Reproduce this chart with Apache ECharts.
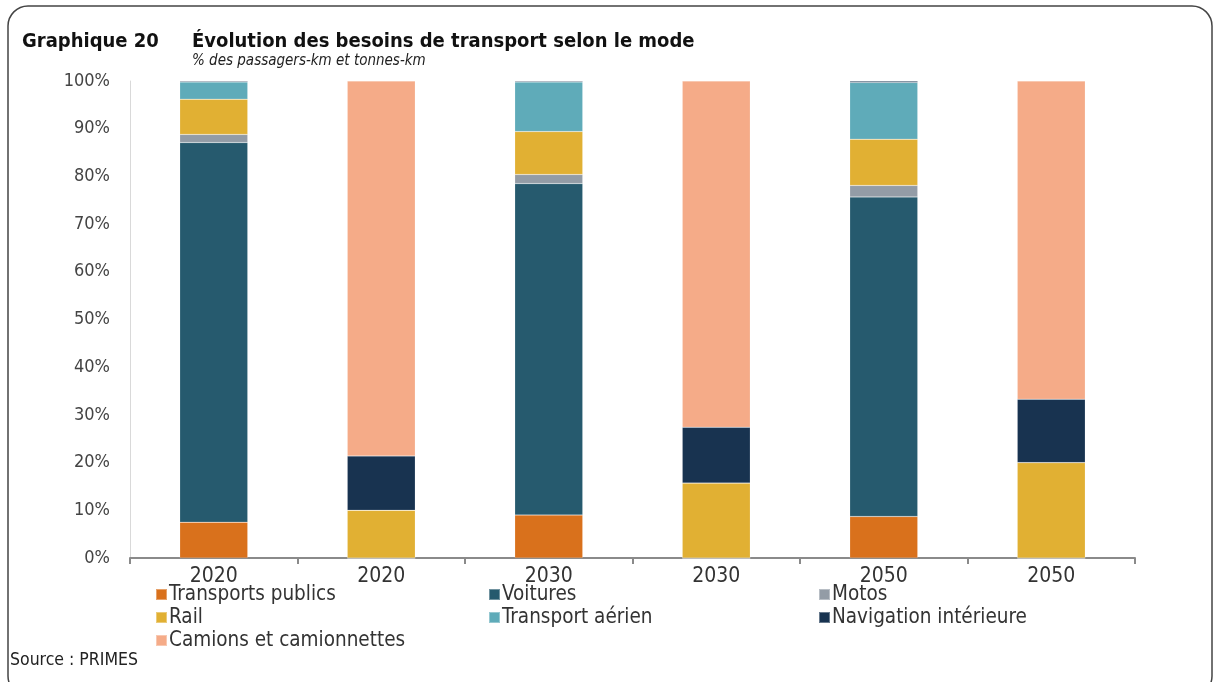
<!DOCTYPE html>
<html>
<head>
<meta charset="utf-8">
<script src="https://cdn.jsdelivr.net/npm/echarts@6/dist/echarts.min.js"></script>
<style>
  html, body { margin: 0; padding: 0; background: #fff; }
  #chart { width: 1215px; height: 682px; }
</style>
</head>
<body>
<div id="chart"></div>
<script>
// categories along x (passengers / freight per year)
const categories = ['2020', '2020', '2030', '2030', '2050', '2050'];
const yTicks = [0, 10, 20, 30, 40, 50, 60, 70, 80, 90, 100];

// shares in %
const transportsPublics = [7.5, 0, 9.0, 0, 8.7, 0];
const voitures = [79.6, 0, 69.5, 0, 67.0, 0];
const motos = [1.7, 0, 1.9, 0, 2.4, 0];
const rail = [7.4, 10.0, 9.0, 15.7, 9.7, 20.0];
const transportAerien = [3.6, 0, 10.4, 0, 11.9, 0];
const navigation = [0.2, 11.4, 0.2, 11.7, 0.3, 13.3];
const camions = [0, 78.6, 0, 72.6, 0, 66.7];

const seriesDefs = [
  { name: 'Transports publics', data: transportsPublics, color: '#D9711C' },
  { name: 'Voitures', data: voitures, color: '#265A6E' },
  { name: 'Motos', data: motos, color: '#939CA6' },
  { name: 'Rail', data: rail, color: '#E1B033' },
  { name: 'Transport aérien', data: transportAerien, color: '#5FABB9' },
  { name: 'Navigation intérieure', data: navigation, color: '#183350' },
  { name: 'Camions et camionnettes', data: camions, color: '#F5AB88' }
];

const FONT = '"DejaVu Sans Condensed", "DejaVu Sans", sans-serif';

const chart = echarts.init(document.getElementById('chart'));

const legendBase = {
  orient: 'vertical',
  icon: 'rect',
  itemWidth: 11,
  itemHeight: 11,
  itemGap: 2,
  padding: 0,
  selectedMode: false,
  textStyle: { fontFamily: FONT, fontSize: 20.5, lineHeight: 20, color: '#333', padding: [0, 0, 0, -3] }
};

const option = {
  animation: false,
  backgroundColor: '#fff',
  textStyle: { fontFamily: FONT },
  title: [
    { text: 'Graphique 20', left: 22, top: 32, padding: 0,
      textStyle: { fontFamily: FONT, fontSize: 20, fontWeight: 'bold', color: '#111' } },
    { text: 'Évolution des besoins de transport selon le mode', left: 192, top: 32, padding: 0,
      textStyle: { fontFamily: FONT, fontSize: 20, fontWeight: 'bold', color: '#111' } },
    { text: '% des passagers-km et tonnes-km', left: 192, top: 54, padding: 0,
      textStyle: { fontFamily: FONT, fontSize: 15, fontStyle: 'italic', fontWeight: 'normal', color: '#222' } },
    { text: 'Source : PRIMES', left: 10, top: 651, padding: 0,
      textStyle: { fontFamily: FONT, fontSize: 17.5, fontWeight: 'normal', color: '#222' } }
  ],
  legend: [
    Object.assign({ left: 155, top: 584, data: ['Transports publics', 'Rail', 'Camions et camionnettes'] }, legendBase),
    Object.assign({ left: 488, top: 584, data: ['Voitures', 'Transport aérien'] }, legendBase),
    Object.assign({ left: 818, top: 584, data: ['Motos', 'Navigation intérieure'] }, legendBase)
  ],
  grid: { left: 130, right: 80, top: 81, bottom: 124, containLabel: false },
  xAxis: {
    type: 'category',
    data: categories,
    axisLine: { lineStyle: { color: '#8a8a8a', width: 2 } },
    axisTick: { show: true, length: 6, lineStyle: { color: '#8a8a8a', width: 2 } },
    axisLabel: { fontFamily: FONT, fontSize: 21, color: '#333', margin: 8 }
  },
  yAxis: {
    type: 'value',
    min: yTicks[0],
    max: yTicks[yTicks.length - 1],
    interval: 10,
    axisLine: { show: true, lineStyle: { color: '#d9d9d9', width: 1 } },
    axisTick: { show: false },
    splitLine: { show: false },
    axisLabel: { fontFamily: FONT, fontSize: 18, color: '#444', margin: 20, formatter: '{value}%' }
  },
  series: seriesDefs.map(s => ({
    name: s.name,
    type: 'bar',
    stack: 'total',
    barWidth: 68,
    data: s.data,
    itemStyle: { color: s.color, borderColor: 'rgba(255,255,255,0.35)', borderWidth: 0.5 }
  })),
  graphic: [
    {
      type: 'rect',
      shape: { x: 8, y: 6, width: 1204, height: 690, r: 20 },
      style: { fill: 'none', stroke: '#444', lineWidth: 1.5 },
      silent: true,
      z: 100
    }
  ]
};

chart.setOption(option);
</script>
</body>
</html>
